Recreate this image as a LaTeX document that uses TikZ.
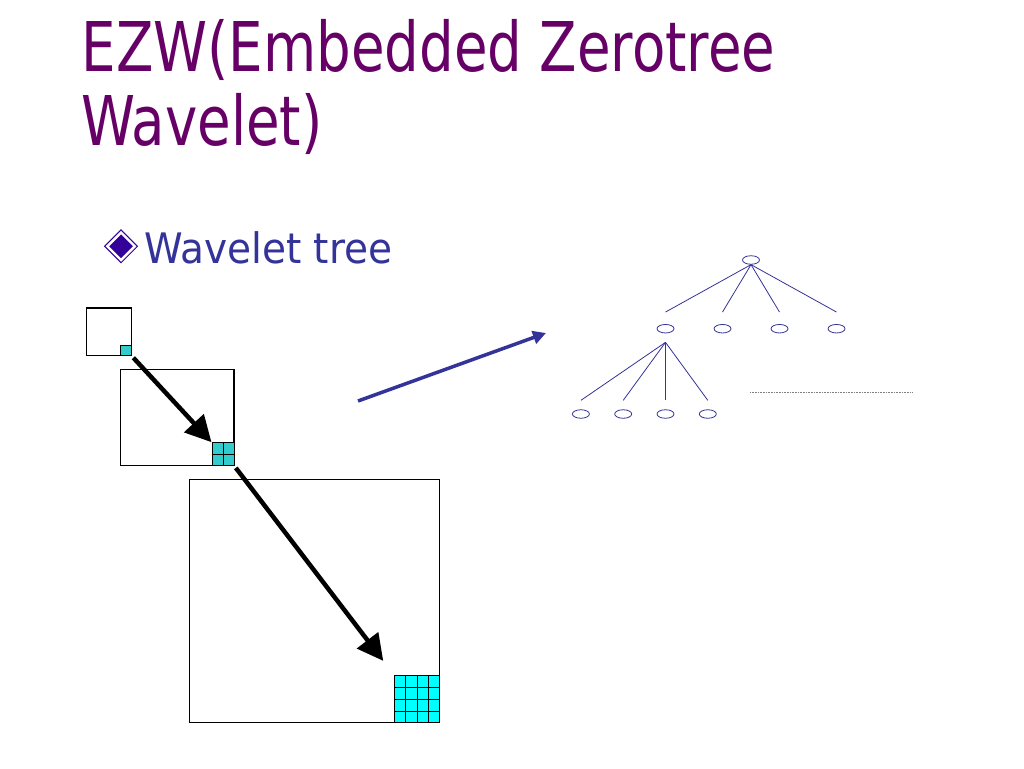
\documentclass[tikz,border=0pt]{standalone}
\usepackage{fontspec}
\setmainfont{DejaVu Sans}
\newfontfamily\titlefont{DejaVu Sans}[FakeStretch=0.796]
\newfontfamily\bulletfont{DejaVu Sans}[FakeStretch=0.93]
\usetikzlibrary{positioning,shapes.geometric,arrows.meta,calc,trees}
\definecolor{titlepurple}{HTML}{660066}
\definecolor{textblue}{HTML}{333399}
\definecolor{bulletfill}{HTML}{330099}
\definecolor{cellteal}{HTML}{33CCCC}
\definecolor{cellcyan}{HTML}{00FFFF}
\begin{document}
\begin{tikzpicture}
	[x=1pt,y=-1pt,
	band/.style={draw, line width=1.3pt, inner sep=0pt, anchor=north west},
	cell/.style={draw, line width=1.1pt, inner sep=0pt, anchor=south east},
	bigarrow/.style={line width=4.5pt, -{Triangle[length=26pt,width=26pt]}},
	level 1/.style={sibling distance=57pt, level distance=68.7pt,
		edge from parent path={(\tikzparentnode.south) -- ([yshift=12pt]\tikzchildnode.north)}},
	level 2/.style={grow via three points={one child at (0,85.3) and two children at (-28.2,85.3) and (14.1,85.3)},
		edge from parent path={([yshift=-9pt]\tikzparentnode.south) -- ([yshift=9pt]\tikzchildnode.north)}}]
	\fill[white] (0,0) rectangle (1024,768);
	\useasboundingbox (0,0) rectangle (1024,768);

	% title
	\node[anchor=base west, inner sep=0pt, text=titlepurple, font=\titlefont\fontsize{68.6}{73}\selectfont] (title) at (81.5,71.7) {EZW(Embedded Zerotree};
	\node[anchor=base west, inner sep=0pt, text=titlepurple, font=\titlefont\fontsize{68.6}{73}\selectfont] (title2) at (81,145) {Wavelet)};

	% bullet
	\node[diamond, draw=bulletfill, double=white, double distance=2.4pt, line width=1.2pt, fill=bulletfill, minimum size=28pt, inner sep=0pt] (bullet) at (121,246.3) {};
	\node[anchor=base west, inner sep=0pt, text=textblue, font=\bulletfont\fontsize{42}{50}\selectfont] (point) at (144,263) {Wavelet tree};

	% subbands
	\node[band, minimum width=44.7pt, minimum height=47.7pt] (bandA) at (86,307.3) {};
	\node[band, minimum width=113.3pt, minimum height=96pt] (bandB) at (120,369) {};
	\node[band, minimum width=250.5pt, minimum height=243pt] (bandC) at (188.5,479) {};
	\node[cell, fill=cellteal, minimum width=10.7pt, minimum height=10.7pt] (cellA) at (bandA.south east) {};
	\node[cell, fill=cellteal, minimum width=22pt, minimum height=23pt] (cellB) at (bandB.south east) {};
	\node[cell, fill=cellcyan, minimum width=45pt, minimum height=47pt] (cellC) at (bandC.south east) {};
	\draw[line width=1.1pt] (cellB.north) -- (cellB.south) (cellB.west) -- (cellB.east);
	\foreach \t in {0.25,0.5,0.75}
	{
		\draw[line width=1.1pt] ($(cellC.north west)!\t!(cellC.north east)$) -- ($(cellC.south west)!\t!(cellC.south east)$);
		\draw[line width=1.1pt] ($(cellC.north west)!\t!(cellC.south west)$) -- ($(cellC.north east)!\t!(cellC.south east)$);
	}
	\draw[bigarrow, shorten <=2pt] (cellA.south east) -- (cellB.north west);
	\draw[bigarrow, shorten <=2pt, shorten >=18pt] (cellB.south east) -- (cellC.north west);

	% mapping arrow
	\coordinate (mapstart) at (358,401);
	\coordinate (mapend) at (546,333);
	\draw[line width=3.5pt, textblue, -{Triangle[length=13pt,width=13pt]}] (mapstart) -- (mapend);

	% tree
	\begin{scope}[every node/.style={ellipse, draw=textblue, line width=0.8pt, minimum width=17pt, minimum height=8.5pt, inner sep=0pt},
		edge from parent/.style={draw=textblue, line width=0.8pt}]
		\node (root) at (751,260) {}
		child
		{
			node (a) {}
			child {node (a1) {}}
			child {node (a2) {}}
			child {node (a3) {}}
			child {node (a4) {}}
		}
		child {node (b) {}}
		child {node (c) {}}
		child {node (d) {}};
	\end{scope}
	\coordinate (dotsL) at (750,392.7);
	\coordinate (dotsR) at (913,392.7);
	\draw[gray, densely dotted, line width=0.6pt] (dotsL) -- (dotsR);
\end{tikzpicture}
\end{document}
